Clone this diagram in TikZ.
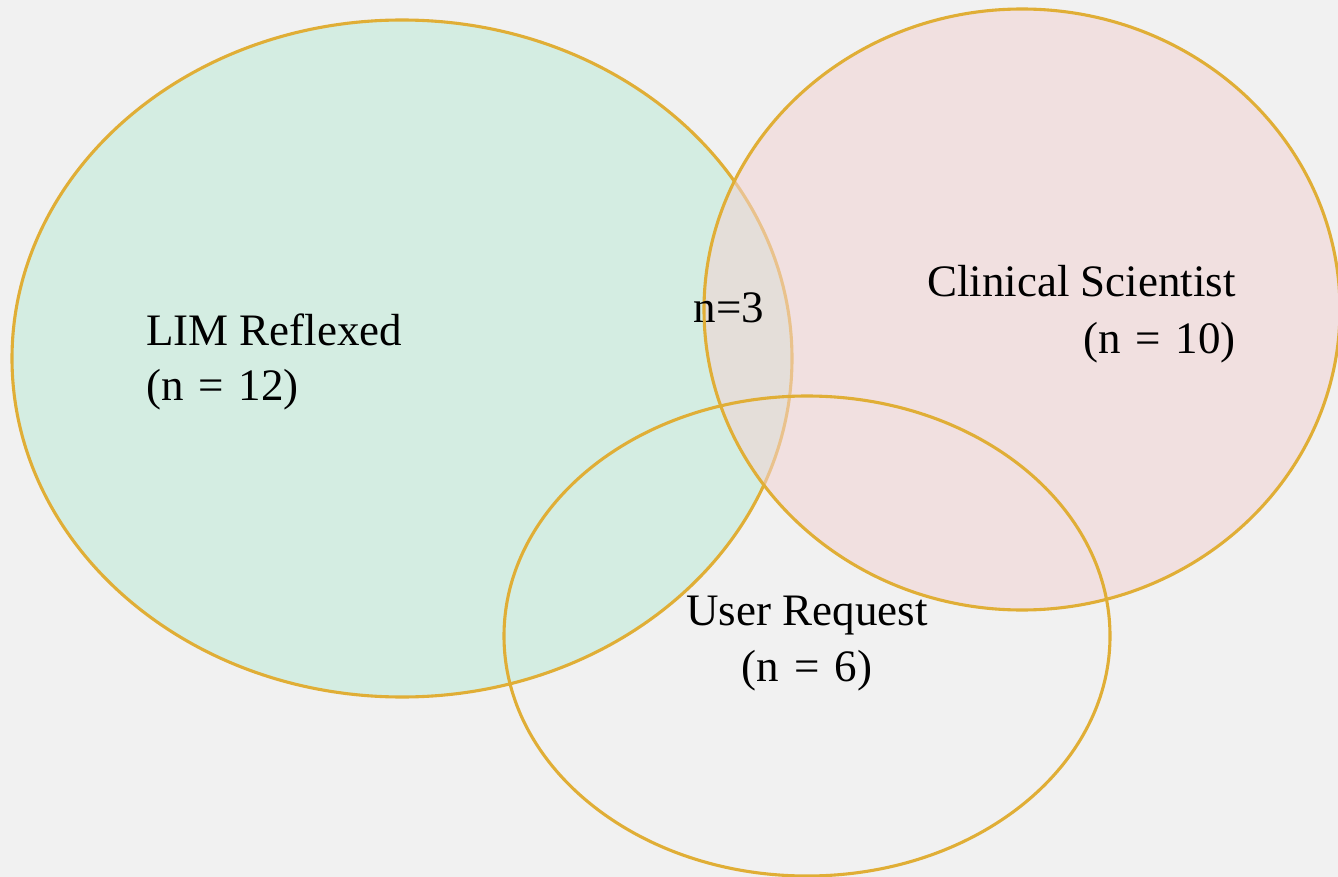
\documentclass[tikz,border=0pt]{standalone}
\usepackage{fontspec}
\setmainfont{Liberation Serif}
\definecolor{paper}{HTML}{F1F1F1}
\definecolor{rim}{HTML}{E0AE36}
\definecolor{mint}{HTML}{D4EDE2}
\definecolor{blush}{HTML}{F2D3D3}
\newcommand\eqgap{\hspace{0.33em}}
\tikzset{
  setrim/.style={draw=rim, line width=3.1pt},
  label/.style={inner sep=0pt, font=\fontsize{45}{56}\selectfont, text=black},
}
\begin{document}
\begin{tikzpicture}[x=1pt,y=-1pt]
  % canvas
  \fill[paper] (0,0) rectangle (1338,877);
  \useasboundingbox (0,0) rectangle (1338,877);
  \begin{scope}
    \clip (0,0) rectangle (1338,877);
    % LIM Reflexed set
    \draw[setrim, fill=mint] (402,358.5) ellipse [x radius=390, y radius=338.5];
    % Clinical Scientist set, translucent so the overlap shows through
    \fill[blush, fill opacity=0.55] (1022,309.5) ellipse [x radius=318, y radius=300.5];
    \draw[setrim] (1022,309.5) ellipse [x radius=318, y radius=300.5];
    % User Request set, outline only
    \draw[setrim] (807,636) ellipse [x radius=303, y radius=240];
  \end{scope}
  % labels
  \node[label, anchor=base west] (limA) at (146,345) {LIM Reflexed};
  \node[label, anchor=base west] (limB) at (146,400) {(n\eqgap=\eqgap12)};
  \node[label, anchor=base east] (csA) at (1236,297) {Clinical Scientist};
  \node[label, anchor=base east] (csB) at (1236,353) {(n\eqgap=\eqgap10)};
  \node[label, anchor=base] (mid) at (729,322) {n=3};
  \node[label, anchor=base] (urA) at (807,625) {User Request};
  \node[label, anchor=base] (urB) at (807,681) {(n\eqgap=\eqgap6)};
\end{tikzpicture}
\end{document}
